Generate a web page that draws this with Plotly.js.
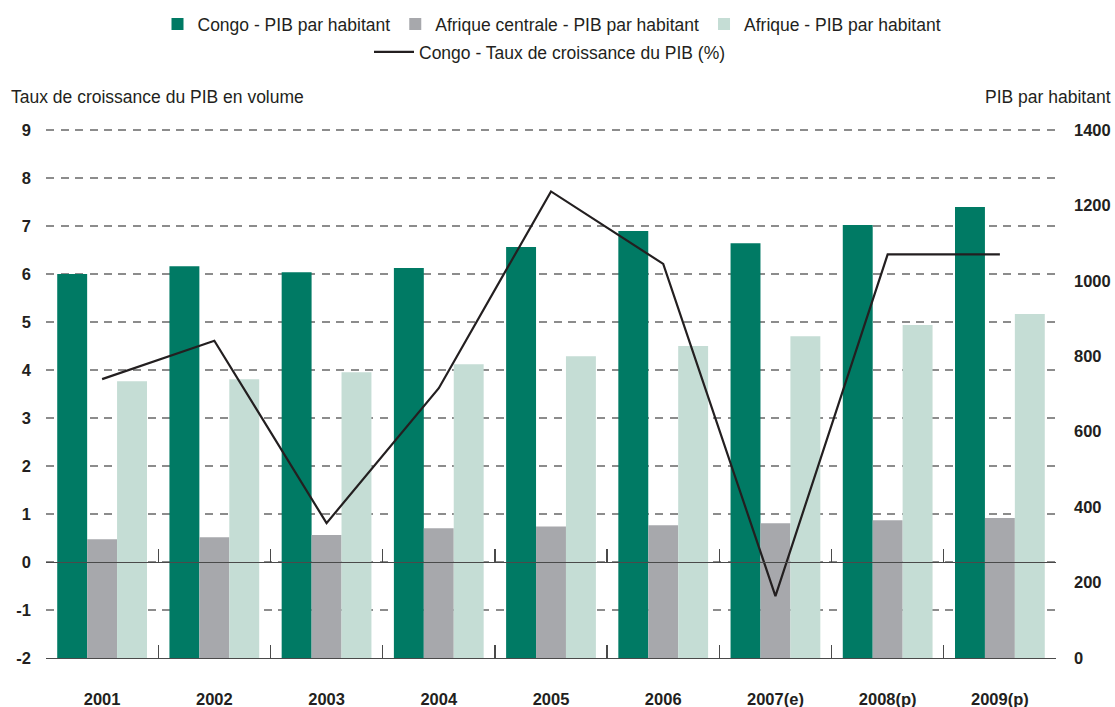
<!DOCTYPE html>
<html>
<head>
<meta charset="utf-8">
<script src="https://cdn.plot.ly/plotly-3.0.1.min.js"></script>
<style>html,body{margin:0;padding:0;background:#fff;}#chart{width:1115px;height:707px;}</style>
</head>
<body>
<div id="chart"></div>
<script>
var years = ['2001','2002','2003','2004','2005','2006','2007(e)','2008(p)','2009(p)'];
var congoPib = [1018,1039,1023,1034,1090,1132,1100,1148,1196];
var afriqueCentralePib = [315,320,326,344,349,352,357,365,371];
var afriquePib = [734,739,758,779,800,827,853,883,912];
var congoCroissance = [3.81,4.61,0.81,3.62,7.72,6.21,-0.71,6.41,6.41];

var leftTicks = [-2,-1,0,1,2,3,4,5,6,7,8,9];
var rightTicks = [0,200,400,600,800,1000,1200,1400];

var FONT = 'Liberation Sans, Arial, Helvetica, sans-serif';
var TXT = '#231f20';
var AXC = '#4a4a4a';
var TOP = 125, BOTTOM = 49;           // margins (px)
var PLOT_H = 707 - TOP - BOTTOM;      // 533 px
var EXTRA = (130 - TOP) / 48;         // headroom above the "9" gridline, in left-axis units

var traces = [
  {type:'bar', name:'Congo - PIB par habitant', x:years, y:congoPib, xaxis:'x', yaxis:'y',
   marker:{color:'#007a64'}, legend:'legend'},
  {type:'bar', name:'Afrique centrale - PIB par habitant', x:years, y:afriqueCentralePib, xaxis:'x', yaxis:'y',
   marker:{color:'#a7a8ac'}, legend:'legend'},
  {type:'bar', name:'Afrique - PIB par habitant', x:years, y:afriquePib, xaxis:'x', yaxis:'y',
   marker:{color:'#c5ddd5'}, legend:'legend'},
  {type:'scatter', mode:'lines', name:'Congo - Taux de croissance du PIB (%)', x:years, y:congoCroissance,
   xaxis:'x2', yaxis:'y2', line:{color:TXT, width:2.2}, legend:'legend2'}
];

var layout = {
  width:1115, height:707,
  margin:{l:46, r:59, t:TOP, b:BOTTOM, pad:0},
  paper_bgcolor:'#fff', plot_bgcolor:'#fff',
  font:{family:FONT, size:17.5, color:TXT},
  barmode:'group', bargap:0.2, bargroupgap:0,
  showlegend:true,
  xaxis:{type:'category', categoryorder:'array', categoryarray:years, range:[-0.5,8.5],
    showgrid:false, zeroline:false, showline:true, linecolor:AXC, linewidth:1.3,
    ticks:'inside', tickson:'boundaries', ticklen:13, tickwidth:1.3, tickcolor:AXC,
    tickfont:{family:FONT, size:16.5, color:TXT, weight:'bold'}, ticklabelstandoff:26,
    automargin:false, fixedrange:true},
  xaxis2:{type:'category', categoryorder:'array', categoryarray:years, range:[-0.5,8.5],
    overlaying:'x', anchor:'free', position:2/(11+EXTRA),
    showgrid:false, zeroline:false, showline:true, linecolor:AXC, linewidth:1.3,
    ticks:'inside', tickson:'boundaries', ticklen:13, tickwidth:1.3, tickcolor:AXC,
    showticklabels:false, automargin:false, fixedrange:true},
  yaxis:{range:[0,1400*PLOT_H/528], tickmode:'array', tickvals:rightTicks, ticktext:rightTicks.map(String),
    side:'right', anchor:'x',
    showgrid:false, zeroline:false, showline:false, ticks:'',
    tickfont:{family:FONT, size:16.5, color:TXT, weight:'bold'}, ticklabelstandoff:17,
    automargin:false, fixedrange:true},
  yaxis2:{range:[-2,9+EXTRA], tickmode:'array', tickvals:leftTicks, ticktext:leftTicks.map(String),
    side:'left', overlaying:'y', anchor:'x',
    showgrid:true, gridcolor:'#8c8c8c', gridwidth:1.6, griddash:'8px,6.5px',
    zeroline:false, showline:false, ticks:'',
    tickfont:{family:FONT, size:16.5, color:TXT, weight:'bold'}, ticklabelstandoff:14,
    automargin:false, fixedrange:true},
  legend:{orientation:'h', xref:'container', yref:'container', x:552/1115, xanchor:'center',
    y:1-24/707, yanchor:'middle',
    font:{family:FONT, size:17.5, color:TXT}, bgcolor:'rgba(0,0,0,0)', traceorder:'normal'},
  legend2:{orientation:'h', xref:'container', yref:'container', x:550/1115, xanchor:'center',
    y:1-52/707, yanchor:'middle', itemwidth:40,
    font:{family:FONT, size:17.5, color:TXT}, bgcolor:'rgba(0,0,0,0)'},
  annotations:[
    {text:'Taux de croissance du PIB en volume', xref:'paper', yref:'paper', x:(9-46)/1010, y:1+(TOP-97)/PLOT_H,
     xanchor:'left', yanchor:'middle', showarrow:false, font:{family:FONT, size:17.5, color:TXT}},
    {text:'PIB par habitant', xref:'paper', yref:'paper', x:(1113-46)/1010, y:1+(TOP-97)/PLOT_H,
     xanchor:'right', yanchor:'middle', showarrow:false, font:{family:FONT, size:17.5, color:TXT}}
  ]
};

Plotly.newPlot('chart', traces, layout, {displayModeBar:false, staticPlot:true});
</script>
</body>
</html>
